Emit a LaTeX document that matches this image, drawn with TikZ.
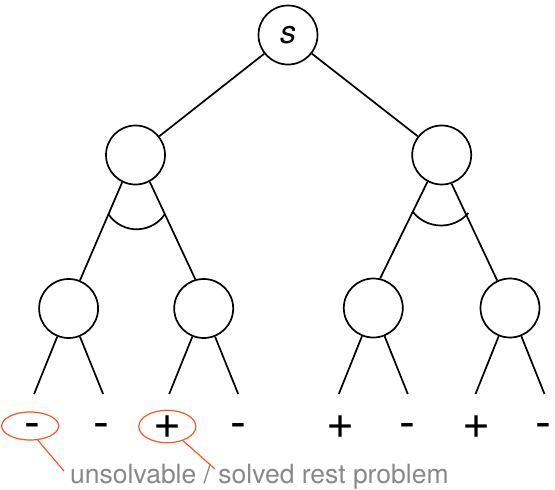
\documentclass[tikz,border=0pt]{standalone}
\usepackage{fontspec}
\setmainfont{TeX Gyre Heros}
\usetikzlibrary{shapes.geometric}
\definecolor{markred}{RGB}{240,90,40}
\definecolor{notegray}{RGB}{136,136,136}
\begin{document}
\begin{tikzpicture}[x=1pt,y=-1pt,
  tnode/.style={circle,draw,line width=1.7pt,minimum size=59pt,inner sep=0pt},
  edge/.style={line width=1.7pt},
  sign/.style={anchor=base,inner sep=0pt,font=\fontsize{48}{48}\selectfont},
  ring/.style={ellipse,draw=markred,line width=1.2pt,inner sep=0pt},
  pointer/.style={draw=markred,line width=1.2pt}]
\useasboundingbox (0,0) rectangle (555,490);

% tree nodes
\node[tnode] (s)  at (288,35)    {\fontsize{32}{32}\selectfont\itshape s};
\node[tnode] (a)  at (135.5,155) {};
\node[tnode] (b)  at (441.7,155) {};
\node[tnode] (aa) at (68.6,308.5) {};
\node[tnode] (ab) at (203.7,308.5) {};
\node[tnode] (ba) at (373.3,308) {};
\node[tnode] (bb) at (510,308) {};

% edges between nodes
\draw[edge] (s) -- (a);
\draw[edge] (s) -- (b);
\draw[edge] (a.244) -- (aa.68);
\draw[edge] (a.298) -- (ab.106);
\draw[edge] (b.242) -- (ba.77);
\draw[edge] (b.289) -- (bb.115);

% AND arcs
\draw[edge] (108.3,214) arc[start angle=213.3,end angle=326.7,radius=33.9pt];
\draw[edge] (412.7,211.7) arc[start angle=218,end angle=319.2,radius=36pt];

% leaf ends
\coordinate (l1) at (34.1,394);
\coordinate (l2) at (103.1,394);
\coordinate (l3) at (169.2,394);
\coordinate (l4) at (238.2,394);
\coordinate (l5) at (338.8,394);
\coordinate (l6) at (407.8,394);
\coordinate (l7) at (475.5,394);
\coordinate (l8) at (544.5,394);
\draw[edge] (aa) -- (l1);
\draw[edge] (aa) -- (l2);
\draw[edge] (ab) -- (l3);
\draw[edge] (ab) -- (l4);
\draw[edge] (ba) -- (l5);
\draw[edge] (ba) -- (l6);
\draw[edge] (bb) -- (l7);
\draw[edge] (bb) -- (l8);

% leaf values
\node[sign] (v1) at (32,438)  {-};
\node[sign] (v2) at (101,438) {-};
\node[sign] (v3) at (168,438) {+};
\node[sign] (v4) at (238,438) {-};
\node[sign] (v5) at (341,438) {+};
\node[sign] (v6) at (407,438) {-};
\node[sign] (v7) at (477,438) {+};
\node[sign] (v8) at (543,438) {-};

% highlighted leaves and note
\node[ring,minimum width=57pt,minimum height=28pt] (e1) at (30.2,426) {};
\node[ring,minimum width=57pt,minimum height=32.5pt] (e2) at (167.3,426.5) {};
\node[anchor=base west,inner sep=0pt,text=notegray,font=\fontsize{26.5}{26.5}\selectfont]
  (note) at (70,483) {unsolvable / solved rest problem};
\coordinate (m1) at (64,471);
\coordinate (m2) at (215,469);
\draw[pointer] (e1.-62) -- (m1);
\draw[pointer] (e2.-42) -- (m2);
\end{tikzpicture}
\end{document}
